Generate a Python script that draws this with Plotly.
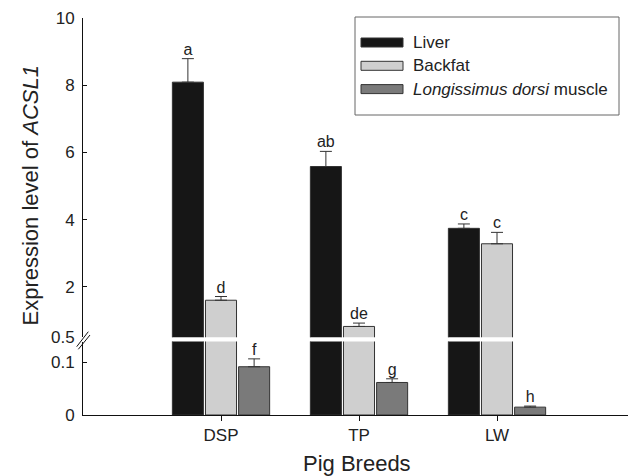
import plotly.graph_objects as go

# ---------------- data ----------------
categories = ["DSP", "TP", "LW"]
series_names = ["Liver", "Backfat", "<i>Longissimus dorsi</i> muscle"]
liver = [8.09, 5.58, 3.74]
liver_err = [0.70, 0.45, 0.13]
backfat = [1.60, 0.82, 3.28]
backfat_err = [0.11, 0.10, 0.34]
muscle = [0.092, 0.062, 0.015]
muscle_err = [0.015, 0.007, 0.002]
letters_liver = ["a", "ab", "c"]
letters_backfat = ["d", "de", "c"]
letters_muscle = ["f", "g", "h"]
upper_ticks = [0.5, 2, 4, 6, 8, 10]
upper_ticktext = ["0.5", "2", "4", "6", "8", "10"]
lower_ticks = [0, 0.1]
lower_ticktext = ["0", "0.1"]
x_title = "Pig Breeds"
y_title = "Expression level of <i>ACSL1</i>"

values = [liver, backfat, muscle]
errors = [liver_err, backfat_err, muscle_err]
letters = [letters_liver, letters_backfat, letters_muscle]
colors = ["#161616", "#cfcfcf", "#7a7a7a"]

# ---------------- layout constants (page pixels) ----------------
PAGE_W, PAGE_H = 636, 476
OFF = 8  # default body margin of the html page
PL, PR, PT, PB = 83, 635, 18, 415  # plot area in page pixels
W, H = PAGE_W - OFF, PAGE_H - OFF
ML, MR, MT, MB = PL - OFF, PAGE_W - PR, PT - OFF, PAGE_H - PB
PW, PH = PR - PL, PB - PT
LOWER_RANGE = [0, 0.14]
UPPER_RANGE = [0.5, 10]
LOWER_DOMAIN = [0, 0.185]
UPPER_DOMAIN = [0.196, 1]
SLOT = 0.24
BARW = 0.225
FONT = "Liberation Sans, Arial, sans-serif"
TXT = "#222222"


def px(xp):
    return (xp - PL) / PW


def py(yp):
    return (PB - yp) / PH


fig = go.Figure()

for i, (name, vals, errs, labs, col) in enumerate(zip(series_names, values, errors, letters, colors)):
    xs = [g + (i - 1) * SLOT for g in range(len(categories))]
    for xa, ya in (("x", "y"), ("x2", "y2")):
        fig.add_trace(go.Bar(
            x=xs, y=vals, width=BARW, name=name, showlegend=False,
            marker=dict(color=col, line=dict(color="#333333", width=1)),
            error_y=dict(type="data", array=errs, arrayminus=[0] * len(errs), symmetric=False,
                         color="#333333", thickness=1, width=6),
            xaxis=xa, yaxis=ya, hoverinfo="skip",
        ))
    # significance letters: put each in the subplot containing its error-bar top
    for x0, v, e, lab in zip(xs, vals, errs, labs):
        top = v + e
        ya, xa = ("y2", "x2") if top >= UPPER_RANGE[0] else ("y", "x")
        fig.add_trace(go.Scatter(
            x=[x0], y=[top], mode="text", text=[lab], textposition="top center",
            textfont=dict(size=16, color=TXT, family=FONT), cliponaxis=False,
            showlegend=False, xaxis=xa, yaxis=ya, hoverinfo="skip",
        ))

axis_common = dict(showline=True, linecolor="#111111", linewidth=1, showgrid=False, zeroline=False,
                   tickfont=dict(size=17, color=TXT, family=FONT), tickcolor="#111111")

fig.update_layout(
    width=W, height=H, margin=dict(l=ML, r=MR, t=MT, b=MB),
    plot_bgcolor="white", paper_bgcolor="white", barmode="overlay",
    font=dict(family=FONT, color=TXT),
    xaxis=dict(range=[-1, 3], tickvals=list(range(len(categories))), ticktext=categories,
               ticks="outside", ticklen=5, anchor="y", **axis_common),
    xaxis2=dict(range=[-1, 3], matches="x", anchor="y2", visible=False),
    yaxis=dict(domain=LOWER_DOMAIN, range=LOWER_RANGE, tickvals=lower_ticks, ticktext=lower_ticktext,
               ticks="inside", ticklen=4, anchor="x", ticklabelstandoff=4, **axis_common),
    yaxis2=dict(domain=UPPER_DOMAIN, range=UPPER_RANGE, tickvals=upper_ticks, ticktext=upper_ticktext,
                ticks="inside", ticklen=4, anchor="x2", ticklabelstandoff=4, **axis_common),
)

shapes = []
annotations = []
# axis break marks
for (x1, y1, x2, y2) in [(76.7, 346.7, 88.3, 331.7), (78.3, 349.3, 90.0, 335.0)]:
    shapes.append(dict(type="line", xref="paper", yref="paper", x0=px(x1), y0=py(y1), x1=px(x2), y1=py(y2),
                       line=dict(color="#111111", width=1)))

# custom legend
shapes.append(dict(type="rect", xref="paper", yref="paper", x0=px(355), x1=px(619), y0=py(115), y1=py(17),
                   line=dict(color="#666666", width=1), fillcolor="white", layer="above"))
for k, (name, col) in enumerate(zip(series_names, colors)):
    cy = 42.5 + k * 23.3
    shapes.append(dict(type="rect", xref="paper", yref="paper", x0=px(361), x1=px(403),
                       y0=py(cy + 4.5), y1=py(cy - 4.5), fillcolor=col,
                       line=dict(color="#333333", width=1), layer="above"))
    annotations.append(dict(xref="paper", yref="paper", x=px(411), y=py(cy), text=name, showarrow=False,
                            xanchor="left", yanchor="middle", font=dict(size=17, color=TXT, family=FONT)))

# axis titles
annotations.append(dict(xref="paper", yref="paper", x=px(30), y=py(195.5), text=y_title, textangle=-90,
                        showarrow=False, xanchor="center", yanchor="middle",
                        font=dict(size=22, color=TXT, family=FONT)))
annotations.append(dict(xref="paper", yref="paper", x=px(357), y=py(463), text=x_title,
                        showarrow=False, xanchor="center", yanchor="middle",
                        font=dict(size=22, color=TXT, family=FONT)))

fig.update_layout(shapes=shapes, annotations=annotations)
fig.write_html("out.html")
